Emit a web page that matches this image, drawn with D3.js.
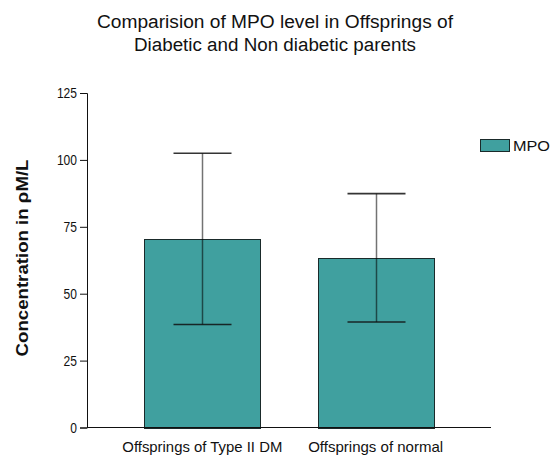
<!DOCTYPE html>
<html>
<head>
<meta charset="utf-8">
<script src="https://cdn.jsdelivr.net/npm/d3@7"></script>
<style>
  body { margin: 0; background: #fff; }
  svg text { font-family: "Liberation Sans", Arial, sans-serif; fill: #111; }
</style>
</head>
<body>
<div id="chart"></div>
<script>
// chart data
const categories = ['Offsprings of Type II DM', 'Offsprings of normal'];
const mpoMean = [70.5, 63.4];
const mpoError = [32, 24];
const yTicks = [0, 25, 50, 75, 100, 125];
const titleLines = ['Comparision of MPO level in Offsprings of', 'Diabetic and Non diabetic parents'];
const seriesName = 'MPO';
const yLabel = 'Concentration in \u03C1M/L';

const width = 551, height = 455;
const margin = { left: 87, top: 93, right: 60, bottom: 27 };
const barColor = '#40a09f';

const svg = d3.select('#chart')
    .append('svg')
    .attr('width', width)
    .attr('height', height);

const x = d3.scaleBand()
    .domain(categories)
    .range([margin.left, 491])
    .paddingInner(0.33)
    .paddingOuter(0.33);

const y = d3.scaleLinear()
    .domain([0, 125])
    .range([height - margin.bottom - 0.5, margin.top]);

// title
svg.append('g').selectAll('text')
    .data(titleLines)
    .enter()
    .append('text')
    .attr('x', 275)
    .attr('y', (d, i) => 28 + i * 23)
    .attr('text-anchor', 'middle')
    .style('font-size', '18px')
    .attr('textLength', (d, i) => i === 0 ? 356 : 282)
    .attr('lengthAdjust', 'spacingAndGlyphs')
    .text(d => d);

// bars
svg.append('g').selectAll('rect')
    .data(mpoMean)
    .enter()
    .append('rect')
    .attr('x', (d, i) => Math.round(x(categories[i])) + 0.5)
    .attr('y', d => Math.round(y(d)) + 0.5)
    .attr('width', Math.round(x.bandwidth()))
    .attr('height', d => Math.round(y(0) - y(d)))
    .attr('fill', barColor)
    .attr('stroke', '#1a2a2a')
    .attr('stroke-width', 1);

// error bars (semi-transparent so the stem darkens over the bar)
const capW = 58;
const cx = i => Math.round(x(categories[i]) + x.bandwidth() / 2) + 0.5;
const err = svg.append('g').selectAll('g')
    .data(mpoMean)
    .enter()
    .append('g');

err.append('line')
    .attr('x1', (d, i) => cx(i))
    .attr('x2', (d, i) => cx(i))
    .attr('y1', (d, i) => y(d + mpoError[i]))
    .attr('y2', (d, i) => y(d - mpoError[i]))
    .attr('stroke', '#000')
    .attr('stroke-opacity', 0.55)
    .attr('stroke-width', 1.5);

err.selectAll('.cap')
    .data((d, i) => [[i, d + mpoError[i]], [i, d - mpoError[i]]])
    .enter()
    .append('line')
    .attr('class', 'cap')
    .attr('x1', d => cx(d[0]) - capW / 2)
    .attr('x2', d => cx(d[0]) + capW / 2)
    .attr('y1', d => y(d[1]))
    .attr('y2', d => y(d[1]))
    .attr('stroke', '#111')
    .attr('stroke-opacity', 0.85)
    .attr('stroke-width', 1.6);

// y axis: ticks from d3, labels drawn separately so their size is ours
const yAxis = svg.append('g')
    .attr('transform', `translate(${margin.left},0)`)
    .call(d3.axisLeft(y).tickValues(yTicks).tickSize(7).tickFormat(''));
yAxis.select('.domain').attr('stroke', '#111');
yAxis.selectAll('.tick line').attr('stroke', '#111');

svg.append('g').selectAll('text')
    .data(yTicks)
    .enter()
    .append('text')
    .attr('x', margin.left - 10)
    .attr('y', d => y(d) + 5)
    .attr('text-anchor', 'end')
    .attr('font-size', 14)
    .attr('textLength', d => String(d).length * 6.7)
    .attr('lengthAdjust', 'spacingAndGlyphs')
    .text(d => d);

// x axis line
svg.append('line')
    .attr('x1', margin.left)
    .attr('x2', 491)
    .attr('y1', y(0))
    .attr('y2', y(0))
    .attr('stroke', '#111');

// x labels
svg.append('g').selectAll('text')
    .data(categories)
    .enter()
    .append('text')
    .attr('x', d => x(d) + x.bandwidth() / 2)
    .attr('y', 452)
    .attr('text-anchor', 'middle')
    .style('font-size', '15px')
    .attr('textLength', (d, i) => i === 0 ? 160 : 135)
    .attr('lengthAdjust', 'spacingAndGlyphs')
    .text(d => d);

// y label
svg.append('text')
    .attr('transform', 'translate(28,258) rotate(-90)')
    .attr('text-anchor', 'middle')
    .style('font-size', '17px')
    .style('font-weight', 'bold')
    .attr('textLength', 197)
    .attr('lengthAdjust', 'spacingAndGlyphs')
    .text(yLabel);

// legend
svg.append('rect')
    .attr('x', 480.5)
    .attr('y', 139.5)
    .attr('width', 29)
    .attr('height', 12)
    .attr('fill', barColor)
    .attr('stroke', '#1a2a2a');
svg.append('text')
    .attr('x', 513)
    .attr('y', 151)
    .style('font-size', '15px')
    .attr('textLength', 37)
    .attr('lengthAdjust', 'spacingAndGlyphs')
    .text(seriesName);
</script>
</body>
</html>
